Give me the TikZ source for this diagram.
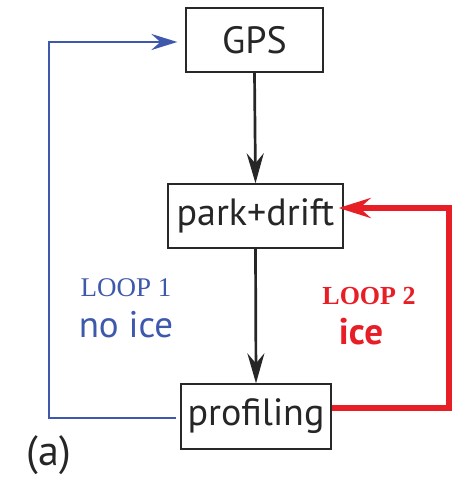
\documentclass[tikz,border=0pt]{standalone}
\usepackage{fontspec}
\setmainfont{PT Sans}
\newfontfamily\serifx{Liberation Serif}
\usetikzlibrary{arrows.meta}
\definecolor{loopblue}{RGB}{62,88,172}
\definecolor{loopred}{RGB}{232,30,38}
\definecolor{boxline}{RGB}{40,40,40}
\tikzset{
  stagebox/.style={draw=boxline,line width=1.3pt,fill=white,inner sep=0pt,font=\fontsize{38}{40}\selectfont,text=black!85},
  flowarrow/.style={line width=2.7pt,draw=black!85,-{Stealth[length=30pt,width=17pt,inset=10pt]}},
  bluearrow/.style={line width=2.4pt,draw=loopblue,-{Stealth[length=26pt,width=16pt,inset=9pt]}},
  redarrow/.style={line width=5.4pt,draw=loopred,-{Stealth[length=32pt,width=20pt,inset=11pt]}},
}
\begin{document}
\begin{tikzpicture}[x=1pt,y=-1pt]
\useasboundingbox (0,0) rectangle (459,478);
\node[stagebox,minimum width=137pt,minimum height=64pt] (gps) at (254.5,40) {GPS};
\node[stagebox,minimum width=175pt,minimum height=64pt] (park) at (255.5,216) {park+drift};
\node[stagebox,minimum width=150pt,minimum height=65pt] (prof) at (256,416.5) {profiling};
\coordinate (bl) at (49,418);
\coordinate (rr) at (449,408);
\draw[flowarrow] (gps.south) -- (park.north);
\draw[flowarrow] (park.south) -- (prof.north);
\draw[bluearrow] ([xshift=-4pt,yshift=-1.5pt]prof.west) -- (bl) |- ([xshift=-8pt,yshift=-2pt]gps.west);
\draw[redarrow,line join=miter] ([yshift=8.5pt]prof.east) -- (rr) |- ([xshift=-5pt,yshift=8pt]park.east);
\node[text=loopblue,font=\serifx\fontsize{27}{29}\selectfont] (l1) at (126,288) {LOOP 1};
\node[text=loopblue,font=\fontsize{37}{39}\selectfont] (n1) at (126,325) {no ice};
\node[text=loopred,font=\serifx\bfseries\fontsize{26}{28}\selectfont] (l2) at (369,296) {LOOP 2};
\node[text=loopred,font=\bfseries\fontsize{37}{39}\selectfont] (n2) at (361,332) {ice};
\node[text=black!85,font=\fontsize{42}{44}\selectfont] (lab) at (49,455) {(a)};
\end{tikzpicture}
\end{document}
